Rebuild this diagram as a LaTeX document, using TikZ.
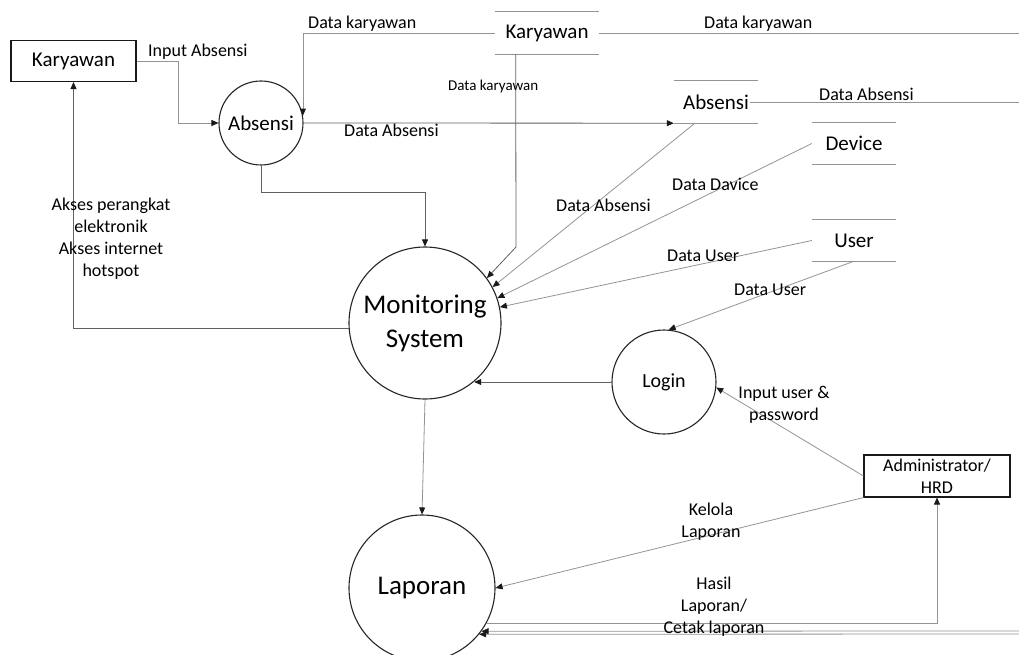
\documentclass[tikz,border=0pt]{standalone}
\usepackage{fontspec}
\setmainfont{Carlito}
\usetikzlibrary{arrows.meta,calc}
\begin{document}
\begin{tikzpicture}[x=1pt,y=-1pt,
  proc/.style={circle,draw=black!85,line width=1.1pt,inner sep=0pt,align=center},
  ent/.style={rectangle,draw=black!90,line width=1.1pt,inner sep=0pt,align=center,font=\fontsize{21}{25}\selectfont},
  store/.style={inner sep=0pt,font=\fontsize{21}{25}\selectfont},
  flow/.style={draw=black!42,line width=0.8pt},
  dflow/.style={draw=black!62,line width=0.8pt},
  arr/.style={-{Triangle[length=7pt,width=6pt,color=black!90]}},
  lbl/.style={font=\fontsize{18}{22}\selectfont,inner sep=0pt,text=black},
  slbl/.style={font=\fontsize{15}{18}\selectfont,inner sep=0pt,text=black}]
\clip (0,0) rectangle (1019,655);
\fill[white] (0,0) rectangle (1019,655);

% processes
\node[proc,minimum size=84pt,font=\fontsize{21}{25}\selectfont] (abs) at (261,123) {Absensi};
\node[proc,minimum size=152pt,font=\fontsize{27}{34}\selectfont] (mon) at (425,323) {Monitoring\\System};
\node[proc,minimum size=104pt,font=\fontsize{20}{24}\selectfont] (login) at (664,382) {Login};
\node[proc,minimum size=146pt,font=\fontsize{27}{34}\selectfont] (lap) at (422,588) {Laporan};

% entities
\node[ent,minimum width=125pt,minimum height=41pt] (kar) at (73.5,61) {Karyawan};
\node[ent,minimum width=146pt,minimum height=42pt,font=\fontsize{18}{22}\selectfont] (adm) at (937,476) {Administrator/\\HRD};

% data stores
\node[store,minimum width=104pt,minimum height=42pt] (skar) at (547,33) {Karyawan};
\node[store,minimum width=84pt,minimum height=42pt] (sabs) at (716,102) {Absensi};
\node[store,minimum width=84pt,minimum height=41pt] (sdev) at (854,143.5) {Device};
\node[store,minimum width=84pt,minimum height=41pt] (suser) at (854,240.5) {User};
\foreach \s in {skar,sabs,sdev,suser}{
  \draw[flow] (\s.north west) -- (\s.north east);
  \draw[flow] (\s.south west) -- (\s.south east);
}

\coordinate (kbend) at (516,247);
\coordinate (rkar) at (1019,33);
\coordinate (rabs) at (1019,102);
\coordinate (r1) at (1019,631);
\coordinate (r2) at (1019,634);

% connectors
\draw[flow,arr] (kar.east) -- ++(42,0) |- (abs.west);
\draw[flow,arr] (skar.west) -| (abs.10);
\draw[flow] (skar.east) -- (rkar);
\draw[dflow,arr] ($(skar.south west)!0.2!(skar.south east)$) -- (kbend) -- (mon.36);
\draw[dflow,arr] (abs.east) -- (sabs.south west);
\draw[flow] ($(sabs.east)+(-8,0)$) -- (rabs);
\draw[flow,arr] ($(sabs.south west)!0.25!(sabs.south east)$) -- (mon.28);
\draw[flow,arr] (sdev.west) -- (mon.19);
\draw[flow,arr] (suser.west) -- (mon.12);
\draw[flow,arr] (suser.south) -- (login.85);
\draw[dflow,arr] (abs.south) -- ++(0,27) -| (mon.north);
\draw[dflow,arr] (mon.184) -| (kar.south);
\draw[dflow,arr] (login.west) -- (login.west -| mon.-50);
\draw[flow,arr] (adm.west) -- (login.-6);
\draw[flow,arr] (adm.south west) -- (lap.east);
\draw[flow,arr] (mon.south) -- (lap.north);
\draw[flow,arr] (lap.-29) -| (adm.south);
\draw[flow,arr] (r1) -- (lap.-36);
\draw[flow,arr] (r2) -- (lap.-39);

% labels
\node[lbl,anchor=west] (l1) at (148,52) {Input Absensi};
\node[lbl,anchor=west] (l2) at (308,24) {Data karyawan};
\node[slbl,anchor=west] (l3) at (448,87) {Data karyawan};
\node[lbl,anchor=west] (l4) at (704,24) {Data karyawan};
\node[lbl,anchor=west] (l5) at (344,130) {Data Absensi};
\node[lbl,anchor=west] (l6) at (819,94) {Data Absensi};
\node[lbl,anchor=west] (l7) at (556,205) {Data Absensi};
\node[lbl,anchor=west] (l8) at (672,184) {Data Davice};
\node[lbl,anchor=west] (l9) at (667,256) {Data User};
\node[lbl,anchor=west] (l10) at (734,290) {Data User};
\node[lbl,align=center] (l11) at (111,239) {Akses perangkat\\elektronik\\Akses internet\\hotspot};
\node[lbl,align=center] (l12) at (784,405) {Input user \&\\password};
\node[lbl,align=center] (l13) at (711,522) {Kelola\\Laporan};
\node[lbl,align=center] (l14) at (714,607) {Hasil\\Laporan/\\Cetak laporan};
\end{tikzpicture}
\end{document}
